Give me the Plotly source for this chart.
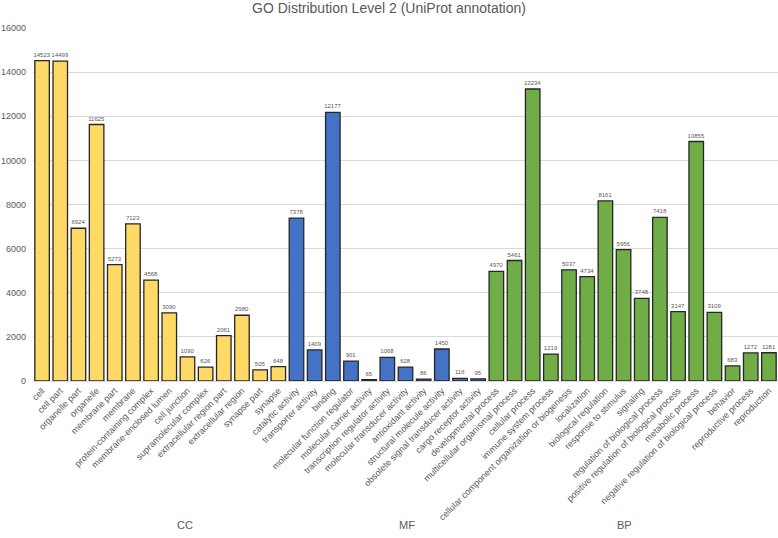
import plotly.graph_objects as go

cc_terms = ["cell", "cell part", "organelle part", "organelle", "membrane part", "membrane",
            "protein-containing complex", "membrane-enclosed lumen", "cell junction",
            "supramolecular complex", "extracellular region part", "extracellular region",
            "synapse part", "synapse"]
cc_counts = [14523, 14499, 6924, 11625, 5273, 7123, 4568, 3090, 1090, 626, 2061, 2980, 505, 648]

mf_terms = ["catalytic activity", "transporter activity", "binding", "molecular function regulator",
            "molecular carrier activity", "transcription regulator activity",
            "molecular transducer activity", "antioxidant activity", "structural molecule activity",
            "obsolete signal transducer activity", "cargo receptor activity"]
mf_counts = [7378, 1409, 12177, 901, 65, 1068, 628, 86, 1450, 116, 95]

bp_terms = ["developmental process", "multicellular organismal process", "cellular process",
            "immune system process", "cellular component organization or biogenesis",
            "localization", "biological regulation", "response to stimulus", "signaling",
            "regulation of biological process", "positive regulation of biological process",
            "metabolic process", "negative regulation of biological process", "behavior",
            "reproductive process", "reproduction"]
bp_counts = [4970, 5461, 13234, 1219, 5037, 4734, 8161, 5956, 3748, 7418, 3147, 10855, 3109,
             683, 1272, 1281]

groups = ["CC", "MF", "BP"]
y_ticks = [0, 2000, 4000, 6000, 8000, 10000, 12000, 14000, 16000]

font = "Liberation Sans"
gray = "#595959"

fig = go.Figure()
for terms, counts, color in [(cc_terms, cc_counts, "#FFD966"),
                             (mf_terms, mf_counts, "#4472C4"),
                             (bp_terms, bp_counts, "#70AD47")]:
    fig.add_trace(go.Bar(
        x=terms, y=counts,
        marker=dict(color=color, line=dict(color="#262626", width=1.3)),
        text=[str(v) for v in counts], textposition="outside",
        textfont=dict(size=6, color=gray, family=font),
        constraintext="none", cliponaxis=False, showlegend=False,
    ))

group_x = [0.19, 0.502, 0.807]
for g, gx in zip(groups, group_x):
    fig.add_annotation(text=g, x=gx, y=-0.43, xref="paper", yref="paper",
                       showarrow=False, font=dict(size=11, color=gray, family=font))

fig.update_layout(
    width=778, height=538,
    margin=dict(l=33, r=0, t=28, b=157, autoexpand=False),
    paper_bgcolor="white", plot_bgcolor="white",
    bargap=0.2,
    title=dict(text="GO Distribution Level 2 (UniProt annotation)", x=0.5, xanchor="center",
               y=0.995, yanchor="top", font=dict(size=14, color=gray, family=font)),
    xaxis=dict(type="category", tickangle=-45, tickfont=dict(size=9, color=gray, family=font),
               showline=True, linecolor="#d9d9d9", linewidth=1, ticks="", showgrid=False,
               automargin=False, range=[-0.5, 40.5]),
    yaxis=dict(range=[0, 16000], tickvals=y_ticks, ticktext=[str(v) for v in y_ticks],
               tickfont=dict(size=9, color=gray, family=font),
               showgrid=True, gridcolor="#d9d9d9", gridwidth=1, zeroline=False, showline=False,
               ticks="", ticklabelstandoff=6, automargin=False),
)

fig.write_html("out.html", config={"displayModeBar": False},
               post_script="document.body.style.margin='0';")
